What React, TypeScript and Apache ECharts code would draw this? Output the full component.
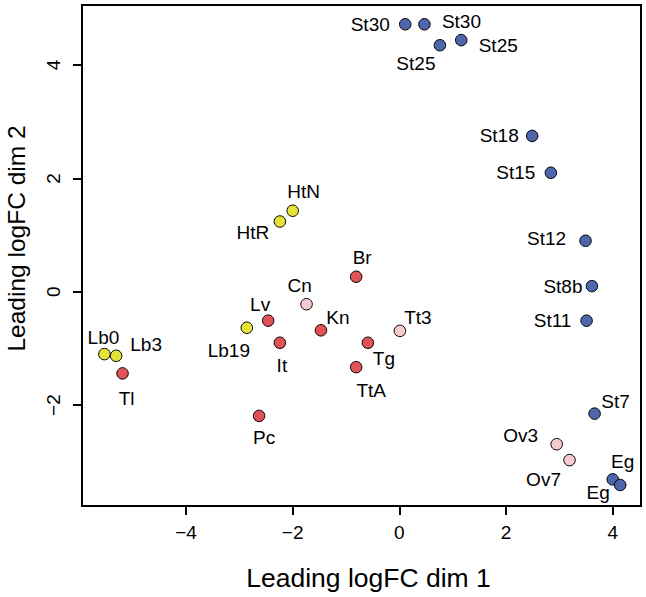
import React, { useEffect, useRef } from "react";
import * as echarts from "echarts";

// Blue group
const blueNames = ["St30", "St30", "St25", "St25", "St18", "St15", "St12", "St8b", "St11", "St7", "Eg", "Eg"];
const blueDim1 = [0.11, 0.47, 0.76, 1.16, 2.49, 2.84, 3.49, 3.61, 3.51, 3.66, 4.0, 4.14];
const blueDim2 = [4.72, 4.72, 4.35, 4.44, 2.75, 2.1, 0.9, 0.1, -0.51, -2.15, -3.31, -3.41];

// Red group
const redNames = ["Br", "Lv", "It", "Kn", "Tl", "Pc", "Tg", "TtA"];
const redDim1 = [-0.81, -2.46, -2.24, -1.47, -5.19, -2.63, -0.59, -0.81];
const redDim2 = [0.265, -0.51, -0.9, -0.68, -1.44, -2.19, -0.9, -1.33];

// Pink group
const pinkNames = ["Cn", "Tt3", "Ov3", "Ov7"];
const pinkDim1 = [-1.74, 0.01, 2.95, 3.19];
const pinkDim2 = [-0.22, -0.69, -2.69, -2.97];

// Yellow group
const yellowNames = ["HtN", "HtR", "Lb19", "Lb0", "Lb3"];
const yellowDim1 = [-2.0, -2.24, -2.86, -5.53, -5.31];
const yellowDim2 = [1.43, 1.24, -0.635, -1.1, -1.13];

const xTicks = [-4, -2, 0, 2, 4];
const yTicks = [-2, 0, 2, 4];

// label placement (styling), pixel offsets from point centre
const blueLabelOffsets = [[-35, 0], [37, -3], [-24, 18], [37, 5], [-33, 0], [-35, 0], [-39, -2], [-29, 0], [-34, 0], [21, -12], [10, -18], [-22, 7]];
const redLabelOffsets = [[6, -19], [-8, -16], [2, 23], [17, -13], [4, 25], [5, 22], [16, 16], [15, 23]];
const pinkLabelOffsets = [[-7, -19], [18, -13], [-36, -9], [-26, 19]];
const yellowLabelOffsets = [[11, -19], [-27, 11], [-18, 23], [-1, -17], [30, -11]];

const FONT = "'Liberation Sans', Arial, Helvetica, sans-serif";

const fmt = (v: number) => (v < 0 ? "\u2212" + Math.abs(v) : String(v));

function makeSeries(names: string[], xs: number[], ys: number[], offsets: number[][], color: string) {
  return {
    type: "scatter",
    symbol: "circle",
    symbolSize: 11.5,
    itemStyle: { color, borderColor: "#000", borderWidth: 1, opacity: 1 },
    label: {
      show: true,
      position: "inside",
      color: "#000",
      fontSize: 19,
      fontFamily: FONT,
      formatter: (p: any) => p.name,
    },
    emphasis: { disabled: true },
    data: names.map((n, i) => ({
      name: n,
      value: [xs[i], ys[i]],
      label: { offset: offsets[i] },
    })),
  };
}

export default function App() {
  const ref = useRef<HTMLDivElement>(null);
  useEffect(() => {
    if (!ref.current) return;
    const chart = echarts.init(ref.current, null, { renderer: "svg" });
    chart.setOption({
      animation: false,
      backgroundColor: "#fff",
      grid: {
        left: 82,
        top: 5,
        right: 5,
        bottom: 91,
        containLabel: false,
        outerBoundsMode: "none",
        show: true,
        borderColor: "#000",
        borderWidth: 2,
        backgroundColor: "transparent",
      },
      xAxis: {
        type: "value",
        position: "bottom",
        min: -5.95,
        max: 4.53,
        name: "Leading logFC dim 1",
        nameLocation: "middle",
        nameGap: 58,
        nameTextStyle: { fontSize: 26.5, fontFamily: FONT, color: "#000", padding: [0, 0, 0, 14] },
        axisLine: { show: true, onZero: false, lineStyle: { color: "#000", width: 2 } },
        splitLine: { show: false },
        axisTick: {
          show: true,
          inside: false,
          length: 9,
          lineStyle: { color: "#000", width: 2 },
          customValues: xTicks,
        },
        axisLabel: {
          show: true,
          margin: 17,
          fontSize: 19,
          fontFamily: FONT,
          color: "#000",
          customValues: xTicks,
          formatter: fmt,
        },
      },
      yAxis: {
        type: "value",
        position: "left",
        min: -3.78,
        max: 5.06,
        name: "Leading logFC dim 2",
        nameLocation: "middle",
        nameGap: 53,
        nameTextStyle: { fontSize: 24.5, fontFamily: FONT, color: "#000", padding: [0, 0, 0, 34] },
        axisLine: { show: true, onZero: false, lineStyle: { color: "#000", width: 2 } },
        splitLine: { show: false },
        axisTick: {
          show: true,
          inside: false,
          length: 9,
          lineStyle: { color: "#000", width: 2 },
          customValues: yTicks,
        },
        axisLabel: {
          show: true,
          margin: 19,
          rotate: 90,
          fontSize: 19,
          fontFamily: FONT,
          color: "#000",
          customValues: yTicks,
          formatter: fmt,
        },
      },
      series: [
        makeSeries(redNames, redDim1, redDim2, redLabelOffsets, "#E05256"),
        makeSeries(pinkNames, pinkDim1, pinkDim2, pinkLabelOffsets, "#F6CACF"),
        makeSeries(yellowNames, yellowDim1, yellowDim2, yellowLabelOffsets, "#E6E23A"),
        makeSeries(blueNames, blueDim1, blueDim2, blueLabelOffsets, "#5066AC"),
      ],
    });
    return () => chart.dispose();
  }, []);
  return (
    <div
      ref={ref}
      style={{ position: "fixed", left: 0, top: 0, width: 646, height: 597, background: "#fff" }}
    />
  );
}
